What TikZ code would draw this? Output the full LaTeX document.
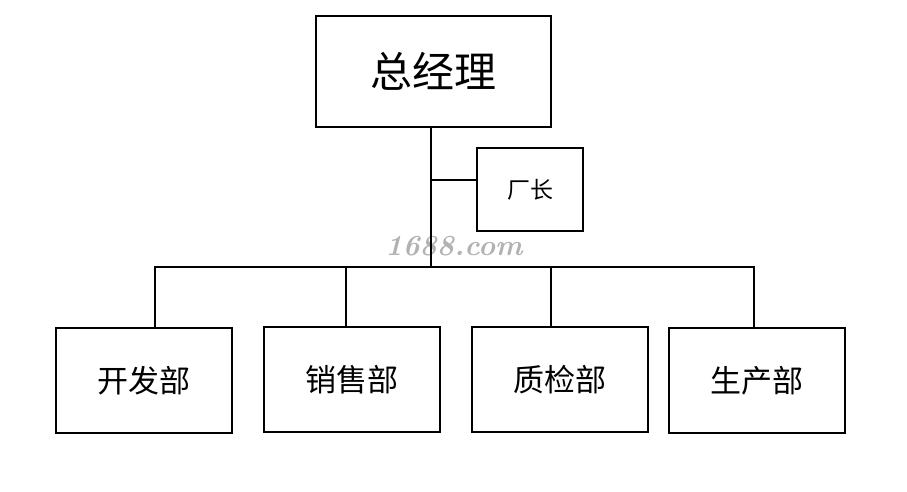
\documentclass[tikz,border=0pt]{standalone}
\usepackage{fontspec}
\newfontfamily\cjk{Noto Sans CJK SC}
\begin{document}
\begin{tikzpicture}[x=1pt,y=-1pt,
  box/.style={draw=black,line width=2pt,inner sep=0pt,font=\cjk},
  dept/.style={box,minimum width=176pt,minimum height=105pt,font=\cjk\fontsize{31}{33}\selectfont},
  link/.style={draw=black,line width=2pt}]
\useasboundingbox (0,0) rectangle (907,491);
\fill[white] (0,0) rectangle (907,491);
% boxes
\node[box,minimum width=235pt,minimum height=111pt,font=\cjk\fontsize{42}{44}\selectfont] (gm) at (433.5,71.5) {总经理};
\node[box,minimum width=106pt,minimum height=83pt,font=\cjk\fontsize{23}{25}\selectfont] (cz) at (530,189.5) {厂长};
\node[dept] (kf) at (144,380.5) {开发部};
\node[dept] (xs) at (352,379.5) {销售部};
\node[dept] (zj) at (560,379.5) {质检部};
\node[dept] (sc) at (757,380.5) {生产部};
% watermark
\node[text=gray!60,font=\bfseries\itshape\fontsize{29}{31}\selectfont] (wm) at (454,246) {1688.com};
% connectors
\coordinate (trunk) at (431,267);
\coordinate (tee) at (431,180);
\coordinate (bl) at (155,267);
\coordinate (br) at (754,267);
\coordinate (d2) at (346,267);
\coordinate (d3) at (551,267);
\draw[link] (gm.south -| trunk) -- (trunk);
\draw[link] (tee) -- (tee -| cz.west);
\draw[link,line cap=rect] (bl) -- (br);
\draw[link] (bl) -- (bl |- kf.north);
\draw[link] (d2) -- (d2 |- xs.north);
\draw[link] (d3) -- (d3 |- zj.north);
\draw[link] (br) -- (br |- sc.north);
\end{tikzpicture}
\end{document}
